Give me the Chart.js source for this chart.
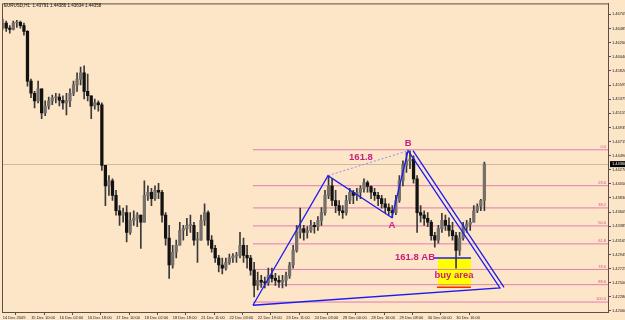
<!DOCTYPE html>
<html><head><meta charset="utf-8">
<script src="https://cdn.jsdelivr.net/npm/chart.js@4"></script>
<style>html,body{margin:0;padding:0;background:#fde5c7;overflow:hidden}#w{width:625px;height:320px;position:relative}</style>
</head><body><div id="w"><canvas id="c" width="625" height="320"></canvas></div>
<script>
// ---------- data ----------
const chartTitle = 'EURUSD,H1  1.43791 1.44386 1.43634 1.44358';
const xTickHours = [0,16,32,48,64,80,96,112,128,144,160,176,192,208,224,240,256];
const xTickLabels = ['14 Dec 2009','15 Dec 10:00','16 Dec 02:00','16 Dec 18:00','17 Dec 10:00','18 Dec 02:00','18 Dec 18:00','21 Dec 11:00','22 Dec 03:00','22 Dec 19:00','23 Dec 11:00','24 Dec 03:00','28 Dec 00:00','28 Dec 16:00','29 Dec 08:00','30 Dec 00:00','30 Dec 16:00'];
const yTickValues = [1.42060,1.42280,1.42500,1.42725,1.42945,1.43165,1.43385,1.43605,1.43830,1.44050,1.44270,1.44490,1.44715,1.44935,1.45155,1.45375,1.45595,1.45820,1.46040,1.46260,1.46485,1.46705];

const firstOpen = 1.4650;
const highs = [
1.4663,1.4660,1.4653,1.4660,1.4661,1.4660,1.4657,1.4645,1.4569,1.4550,
1.4566,1.4554,1.4535,1.4541,1.4544,1.4547,1.4546,1.4543,1.4547,1.4554,
1.4566,1.4579,1.4588,1.4590,1.4577,1.4543,1.4538,1.4535,1.4532,1.4434,
1.4418,1.4413,1.4395,1.4371,1.4367,1.4371,1.4360,1.4363,1.4360,1.4356,
1.4410,1.4402,1.4398,1.4402,1.4406,1.4395,1.4360,1.4340,1.4309,1.4317,
1.4345,1.4340,1.4351,1.4356,1.4345,1.4329,1.4356,1.4374,1.4363,1.4324,
1.4309,1.4293,1.4289,1.4289,1.4295,1.4296,1.4298,1.4329,1.4320,1.4309,
1.4293,1.4282,1.4267,1.4262,1.4259,1.4273,1.4273,1.4265,1.4261,1.4262,
1.4267,1.4282,1.4309,1.4340,1.4367,1.4340,1.4338,1.4348,1.4345,1.4354,
1.4368,1.4395,1.4418,1.4413,1.4395,1.4379,1.4371,1.4387,1.4398,1.4395,
1.4398,1.4402,1.4413,1.4410,1.4402,1.4398,1.4392,1.4387,1.4382,1.4374,
1.4371,1.4387,1.4418,1.4441,1.4454,1.4457,1.4449,1.4418,1.4371,1.4363,
1.4360,1.4348,1.4329,1.4340,1.4359,1.4356,1.4352,1.4345,1.4329,1.4329,
1.4345,1.4348,1.4351,1.4371,1.4374,1.4381,1.4439];
const lows = [
1.4647,1.4644,1.4641,1.4646,1.4650,1.4649,1.4638,1.4558,1.4540,1.4524,
1.4532,1.4507,1.4512,1.4522,1.4529,1.4532,1.4527,1.4522,1.4513,1.4526,
1.4543,1.4550,1.4560,1.4538,1.4535,1.4507,1.4522,1.4519,1.4426,1.4371,
1.4387,1.4379,1.4356,1.4340,1.4345,1.4314,1.4326,1.4340,1.4338,1.4304,
1.4345,1.4379,1.4371,1.4379,1.4382,1.4345,1.4309,1.4257,1.4273,1.4289,
1.4309,1.4317,1.4324,1.4329,1.4309,1.4282,1.4317,1.4340,1.4309,1.4298,
1.4282,1.4267,1.4264,1.4270,1.4279,1.4282,1.4282,1.4289,1.4282,1.4273,
1.4262,1.4228,1.4239,1.4243,1.4242,1.4246,1.4251,1.4246,1.4243,1.4242,
1.4245,1.4257,1.4273,1.4298,1.4320,1.4317,1.4320,1.4329,1.4328,1.4332,
1.4340,1.4356,1.4382,1.4371,1.4360,1.4356,1.4351,1.4356,1.4374,1.4374,
1.4379,1.4382,1.4392,1.4392,1.4382,1.4379,1.4371,1.4367,1.4360,1.4356,
1.4352,1.4357,1.4376,1.4402,1.4423,1.4429,1.4406,1.4329,1.4345,1.4340,
1.4338,1.4317,1.4306,1.4312,1.4329,1.4332,1.4323,1.4317,1.4273,1.4293,
1.4317,1.4329,1.4332,1.4345,1.4360,1.4363,1.4363];
const closes = [
1.4657,1.4649,1.4647,1.4657,1.4658,1.4653,1.4644,1.4566,1.4547,1.4535,
1.4554,1.4516,1.4527,1.4535,1.4540,1.4541,1.4536,1.4532,1.4535,1.4547,
1.4560,1.4569,1.4579,1.4550,1.4543,1.4527,1.4532,1.4529,1.4434,1.4402,
1.4410,1.4387,1.4363,1.4356,1.4360,1.4329,1.4348,1.4351,1.4356,1.4345,
1.4387,1.4392,1.4382,1.4395,1.4392,1.4356,1.4320,1.4278,1.4298,1.4309,
1.4332,1.4335,1.4340,1.4340,1.4317,1.4317,1.4348,1.4360,1.4317,1.4304,
1.4289,1.4278,1.4273,1.4282,1.4289,1.4292,1.4293,1.4309,1.4293,1.4289,
1.4270,1.4246,1.4254,1.4251,1.4250,1.4262,1.4257,1.4254,1.4251,1.4254,
1.4261,1.4278,1.4301,1.4329,1.4335,1.4329,1.4332,1.4340,1.4338,1.4348,
1.4360,1.4387,1.4402,1.4379,1.4371,1.4363,1.4360,1.4379,1.4392,1.4387,
1.4392,1.4398,1.4407,1.4401,1.4392,1.4387,1.4382,1.4374,1.4368,1.4363,
1.4360,1.4379,1.4410,1.4434,1.4441,1.4444,1.4413,1.4360,1.4356,1.4351,
1.4345,1.4324,1.4317,1.4335,1.4348,1.4340,1.4332,1.4324,1.4301,1.4320,
1.4338,1.4342,1.4345,1.4363,1.4370,1.4379,1.4436];

// pattern drawing anchors (hour index, price)
const patternHours  = [141.8, 184.2, 220.3, 229.4, 281.3];   // X, peak, A, B, D
const patternPrices = [1.4215, 1.4418, 1.4352, 1.4457, 1.4242];
const parallelHours  = [232.2, 283.6];
const parallelPrices = [1.4457, 1.4243];
// fibonacci retracement
const fibStartHour = 141.8;
const fibHigh = 1.44585, fibLow = 1.42200;
const fibLevels = [0, 23.6, 38.2, 50.0, 61.8, 78.6, 88.6, 100.0];
// buy zone
const zoneHours = [246.3, 264.9];
const zonePrices = [1.4289, 1.4243];
const zoneLineStartHours = [243.5, 245.7];
// text labels
const noteTexts  = ['B', '161.8', 'A', '161.8 AB', 'buy area'];
const noteHours  = [229.4, 202.8, 220.3, 233.3, 255.3];
const notePrices = [1.4469, 1.4446, 1.4340, 1.4290, 1.4261];

// ---------- build ----------
const BG = '#fde5c7';
const hours = closes.map((c, k) => 2 * k + 0.5);
const opens = closes.map((c, k) => k === 0 ? firstOpen : closes[k - 1]);
const xMin = 0.113, xMax = 342.3;
const yMin = 1.42044, yMax = 1.46877;
const lastClose = closes[closes.length - 1];

const wickData = hours.map((h, k) => ({x: h, y: [lows[k], highs[k]]}));
const bodyData = hours.map((h, k) => ({x: h, y: [opens[k], closes[k]]}));
const bodyColors = hours.map((h, k) => closes[k] >= opens[k] ? '#75706a' : '#121212');

const blue = '#1c1cf0';
const lineDs = (pts, color, width, dash, order) => ({
  type: 'line', data: pts, borderColor: color, borderWidth: width, borderDash: dash || [],
  pointRadius: 0, fill: false, tension: 0, order: order, clip: false
});
const P = i => ({x: patternHours[i], y: patternPrices[i]});

const datasets = [];
fibLevels.forEach(l => {
  const p = fibHigh - (fibHigh - fibLow) * l / 100;
  datasets.push(lineDs([{x: fibStartHour, y: p}, {x: xMax, y: p}], '#e27cb0', 1, null, 5));
});
datasets.push({type: 'bar', data: wickData, backgroundColor: '#3a3a3a', barThickness: 1, grouped: false, order: 3, borderWidth: 0});
datasets.push({type: 'bar', data: bodyData, backgroundColor: bodyColors, barThickness: 2.6, grouped: false, order: 2, borderWidth: 0, minBarLength: 1});
datasets.push(lineDs([P(0), P(1), P(2), P(3), P(4), P(0)], blue, 1.3, null, 0));
datasets.push(lineDs([{x: parallelHours[0], y: parallelPrices[0]}, {x: parallelHours[1], y: parallelPrices[1]}], blue, 1.3, null, 0));
datasets.push(lineDs([P(1), P(3)], '#8f8ff0', 1, [2, 2], 0));

const overlay = {
  id: 'overlay',
  beforeDraw(chart) {
    const ctx = chart.ctx;
    ctx.save(); ctx.fillStyle = BG; ctx.fillRect(0, 0, chart.width, chart.height); ctx.restore();
  },
  beforeDatasetsDraw(chart) {
    const ctx = chart.ctx, xs = chart.scales.x, ys = chart.scales.y, ca = chart.chartArea;
    ctx.save();
    const yp = Math.round(ys.getPixelForValue(lastClose)) + 0.5;
    ctx.strokeStyle = '#cdb9a0'; ctx.lineWidth = 1;
    ctx.beginPath(); ctx.moveTo(ca.left, yp); ctx.lineTo(ca.right, yp); ctx.stroke();
    const x0 = xs.getPixelForValue(zoneHours[0]), x1 = xs.getPixelForValue(zoneHours[1]);
    const y0 = ys.getPixelForValue(zonePrices[0]), y1 = ys.getPixelForValue(zonePrices[1]);
    ctx.fillStyle = '#ffff00'; ctx.fillRect(x0, y0, x1 - x0, y1 - y0);
    ctx.lineWidth = 1.5;
    ctx.strokeStyle = blue; ctx.beginPath();
    ctx.moveTo(xs.getPixelForValue(zoneLineStartHours[0]), y0); ctx.lineTo(x1, y0); ctx.stroke();
    ctx.strokeStyle = '#ff2020'; ctx.beginPath();
    ctx.moveTo(xs.getPixelForValue(zoneLineStartHours[1]), y1); ctx.lineTo(x1, y1); ctx.stroke();
    ctx.restore();
  },
  afterDatasetsDraw(chart) {
    const ctx = chart.ctx, xs = chart.scales.x, ys = chart.scales.y, ca = chart.chartArea;
    ctx.save();
    ctx.font = '4px "Liberation Sans"'; ctx.fillStyle = '#d0508e';
    ctx.textAlign = 'right'; ctx.textBaseline = 'bottom';
    fibLevels.forEach(l => {
      const p = fibHigh - (fibHigh - fibLow) * l / 100;
      ctx.fillText(l.toFixed(1), ca.right - 2, ys.getPixelForValue(p) - 1);
    });
    ctx.font = 'bold 9.5px "Liberation Sans"'; ctx.fillStyle = '#c8207e';
    ctx.textAlign = 'center'; ctx.textBaseline = 'middle';
    noteTexts.forEach((t, i) => ctx.fillText(t, xs.getPixelForValue(noteHours[i]), ys.getPixelForValue(notePrices[i])));
    ctx.restore();
  },
  afterDraw(chart) {
    const ctx = chart.ctx, ys = chart.scales.y, ca = chart.chartArea;
    ctx.save();
    ctx.strokeStyle = '#5b4f45'; ctx.lineWidth = 1;
    ctx.strokeRect(ca.left + 0.5, ca.top + 0.5, ca.right - ca.left, ca.bottom - ca.top);
    ctx.font = '4.5px "Liberation Sans"'; ctx.fillStyle = '#111';
    ctx.textAlign = 'left'; ctx.textBaseline = 'middle';
    ctx.fillText(chartTitle, 4, 6);
    const yp = ys.getPixelForValue(lastClose);
    ctx.fillStyle = '#000'; ctx.fillRect(ca.right + 2, yp - 3, 17, 6);
    ctx.fillStyle = '#fff'; ctx.font = '4px "Liberation Sans"';
    ctx.fillText(lastClose.toFixed(5), ca.right + 4, yp);
    ctx.restore();
  }
};

new Chart(document.getElementById('c'), {
  type: 'bar',
  data: {datasets},
  plugins: [overlay],
  options: {
    responsive: false, animation: false, events: [], devicePixelRatio: 1,
    layout: {padding: {left: 2, top: 2, right: 0, bottom: 0}},
    plugins: {legend: {display: false}, tooltip: {enabled: false}, title: {display: false}},
    scales: {
      x: {
        type: 'linear', min: xMin, max: xMax, offset: false,
        afterBuildTicks: s => { s.ticks = xTickHours.map(v => ({value: v})); },
        afterFit: s => { s.height = 8; },
        ticks: {autoSkip: false, maxRotation: 0, minRotation: 0, align: 'start', padding: 0, labelOffset: 1,
          font: {family: 'Liberation Sans', size: 4}, color: '#222',
          callback: (v, i) => xTickLabels[i]},
        grid: {drawOnChartArea: false, drawTicks: true, tickLength: 3, color: '#5b4f45'},
        border: {display: true, color: '#5b4f45'}
      },
      y: {
        type: 'linear', position: 'right', min: yMin, max: yMax,
        afterBuildTicks: s => { s.ticks = yTickValues.map(v => ({value: v})); },
        afterFit: s => { s.width = 17; },
        ticks: {autoSkip: false, padding: 1, font: {family: 'Liberation Sans', size: 4}, color: '#222',
          callback: v => Number(v).toFixed(5)},
        grid: {drawOnChartArea: false, drawTicks: true, tickLength: 3, color: '#5b4f45'},
        border: {display: true, color: '#5b4f45'}
      }
    }
  }
});
</script></body></html>
